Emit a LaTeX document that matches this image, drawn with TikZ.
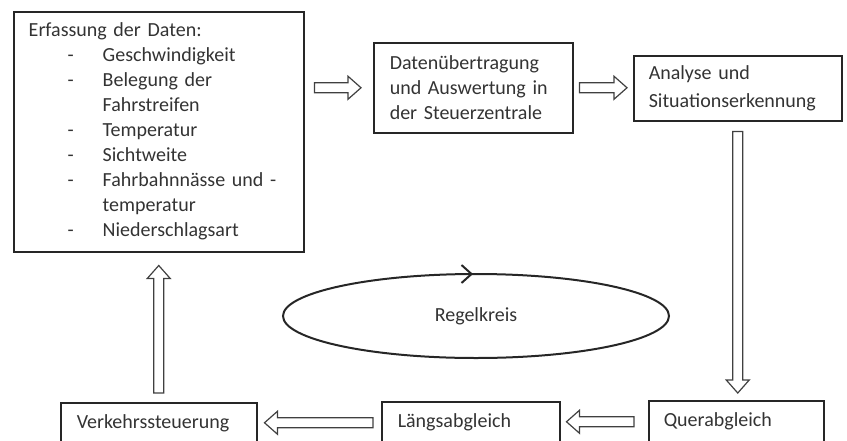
\documentclass[tikz,border=0pt]{standalone}
\usepackage{fontspec}
\setmainfont{Carlito}
\usetikzlibrary{arrows.meta, calc, shapes.geometric}

\newcommand{\datenpunkt}[1]{\hspace*{19.5pt}\makebox[17.5pt][l]{-}#1}
\newcommand{\weiterzeile}[1]{\hspace*{37pt}#1}

\begin{document}
\begin{tikzpicture}[
    x=0.5pt, y=-0.5pt,
    box/.style={rectangle, draw=black!85, line width=0.75pt, anchor=north west, align=left, inner ysep=0pt, inner xsep=7.5pt, text=black!80, font=\fontsize{10}{12.5}\selectfont},
    loopnode/.style={ellipse, draw=black!85, line width=1pt, minimum width=193pt, minimum height=42pt, inner sep=0pt, outer sep=0pt, text=black!80, font=\fontsize{10}{12}\selectfont},
    hollow/.style={draw=black!75, line width=0.6pt, to path={
        let \p1=($(\tikztotarget)-(\tikztostart)$), \n1={atan2(\y1,\x1)}, \n2={veclen(\x1,\y1)-6.5pt} in
        ($(\tikztostart)+(\n1+90:2.5pt)$) -- ++(\n1:\n2) -- ++(\n1+90:3.25pt) -- (\tikztotarget)
        -- ($(\tikztostart)+(\n1:\n2)+(\n1-90:5.75pt)$) -- ++(\n1+90:3.25pt) -- ++(\n1+180:\n2) -- cycle}}
]
\useasboundingbox (0,0) rectangle (847,440);
\clip (0,0) rectangle (847,440);

% Top row
\node[box, text width=130pt, minimum height=120pt] (erfassung) at (13,11) {Erfassung der Daten:\\
    \datenpunkt{Geschwindigkeit}\\
    \datenpunkt{Belegung der}\\
    \weiterzeile{Fahrstreifen}\\
    \datenpunkt{Temperatur}\\
    \datenpunkt{Sichtweite}\\
    \datenpunkt{Fahrbahnnässe und -}\\
    \weiterzeile{temperatur}\\
    \datenpunkt{Niederschlagsart}};
\node[box, text width=83.5pt, inner xsep=8pt, minimum height=45pt] (uebertragung) at (373,42) {Datenübertragung\\und Auswertung in\\der Steuerzentrale};
\node[box, text width=89pt, minimum height=32.5pt, font=\fontsize{10}{14}\selectfont] (analyse) at (633,55) {Analyse und\\Situationserkennung};

% Bottom row
\node[box, text width=72.5pt, minimum height=21pt] (querabgleich) at (648,400) {Querabgleich};
\node[box, text width=73pt, inner xsep=8pt, minimum height=21pt] (laengsabgleich) at (381,401) {Längsabgleich};
\node[box, text width=82pt, inner xsep=8pt, minimum height=21pt] (verkehrssteuerung) at (60,402) {Verkehrssteuerung};

% Regelkreis
\node[loopnode] (regelkreis) at (476,316) {Regelkreis};
\draw[line width=1pt, draw=black!85, -{Straight Barb[length=5pt, width=9pt]}] ([xshift=-8pt]regelkreis.north) -- ([xshift=-1.5pt]regelkreis.north);

% Hollow flow arrows
\draw[hollow] ([xshift=5pt]erfassung.east |- uebertragung.west) to ([xshift=-6pt]uebertragung.west);
\draw[hollow] ([xshift=3pt]uebertragung.east) to ([xshift=-3pt]analyse.west |- uebertragung.east);
\draw[hollow] ([yshift=-5pt]analyse.south) to ([yshift=3.5pt]analyse.south |- querabgleich.north);
\draw[hollow] ([xshift=-7pt]querabgleich.west) to ([xshift=3pt]laengsabgleich.east |- querabgleich.west);
\draw[hollow] ([xshift=-4pt]laengsabgleich.west) to ([xshift=3.5pt]verkehrssteuerung.east |- laengsabgleich.west);
\draw[hollow] ([yshift=4.5pt]verkehrssteuerung.north) to ([yshift=-6.5pt]verkehrssteuerung.north |- erfassung.south);

\end{tikzpicture}
\end{document}
